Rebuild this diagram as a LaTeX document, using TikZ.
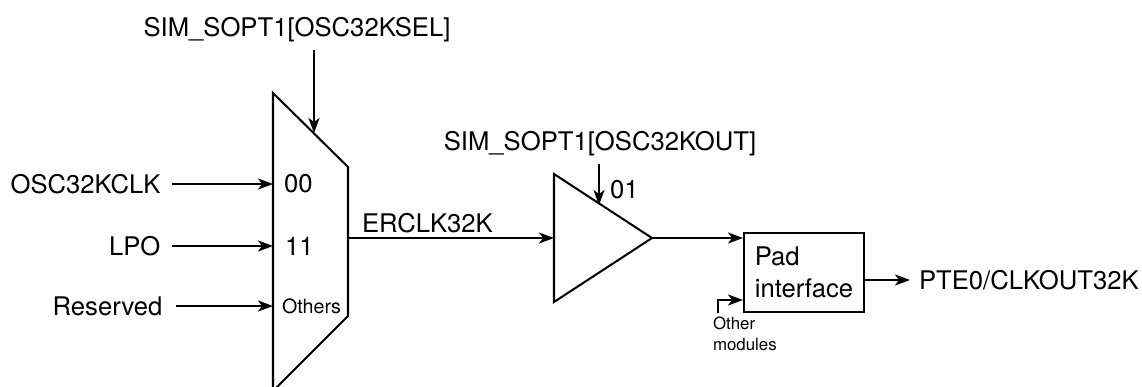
\documentclass[tikz,border=0pt]{standalone}
\usepackage{fontspec}
\setmainfont{TeX Gyre Heros}
\usetikzlibrary{arrows.meta,positioning,calc}
\tikzset{
  base/.style={%
    inner sep=0pt,
    font=\fontsize{14.6}{18.2}\selectfont,
  },
  small/.style={%
    inner sep=0pt,
    font=\fontsize{11.2}{11.9}\selectfont,
  },
  tiny/.style={%
    inner sep=0pt,
    font=\fontsize{9.6}{12}\selectfont,
  },
  signal/.style={%
    base,
    inner xsep=6pt,
  },
  padbox/.style={%
    draw,base,align=left,
    minimum width=120*0.02cm,
    minimum height=79*0.02cm,
  }
}
\begin{document}
\begin{tikzpicture}[
    x=0.02cm,y=-0.02cm,
    line width=1.15pt,>={Stealth[length=0.3cm,width=0.22cm,inset=0.08cm]},
    line cap=butt,line join=miter,
]
\useasboundingbox (0,0) rectangle (1142,386);
% mux corners
\coordinate (muxtl) at (273,93);
\coordinate (muxtr) at (348,167);
\coordinate (muxbr) at (348,316);
\coordinate (muxbl) at (273,391);
\draw (muxtl) -- (muxtr) -- (muxbr) -- (muxbl) -- cycle;
% buffer corners
\coordinate (buftl) at (554,174);
\coordinate (buftip) at (652,238);
\coordinate (bufbl) at (554,302);
\draw (buftl) -- (buftip) -- (bufbl) -- cycle;
% mux inputs
\node[signal,anchor=east] (osc) at (172,184) {OSC32KCLK};
\node[signal,anchor=east] (lpo) at (172,246) {LPO};
\node[signal,anchor=east] (res) at (174,306) {Reserved};
\node[base,anchor=west] (in00) at (283,184) {00};
\node[base,anchor=west] (in11) at (284,246) {11};
\node[small,anchor=west] (inoth) at (281,306) {Others};
\draw[->] (osc.east) -- (osc-|muxtl);
\draw[->] (lpo.east) -- (lpo-|muxtl);
\draw[->] ([xshift=2*0.02cm]res.east) -- (res-|muxtl);
% select lines
\node[base] (oscsel) at (297,30) {SIM\_SOPT1[OSC32KSEL]};
\coordinate (oscselin) at (314,133);
\draw[->] (oscselin|-oscsel.south) ++(0,7) -- (oscselin);
\node[base] (oscout) at (600,144) {SIM\_SOPT1[OSC32KOUT]};
\coordinate (oscoutin) at (599,205);
\draw[->] (oscoutin|-oscout.south) ++(0,7) -- (oscoutin);
\node[base,anchor=west] (en) at (609,190) {01};
% outputs
\node[base,anchor=base west] (erclk) at (361,232) {ERCLK32K};
\coordinate (muxout) at (348,238);
\draw[->] (muxout) -- (muxout-|buftl);
\node[padbox,anchor=north west] (pad) at (743,232) {Pad\\interface};
\coordinate (padin) at (743,238);
\draw[->] (buftip) -- (padin);
\node[base,anchor=west,inner xsep=8*0.02cm] (pte) at (910,280) {PTE0/CLKOUT32K};
\draw[->] (pad.east|-pte) -- (pte);
\node[tiny,anchor=north west,align=left] (other) at (712,316) {Other\\modules};
\coordinate (otherin) at (743,300);
\draw[->] (718,313) |- (otherin);
\end{tikzpicture}
\end{document}
